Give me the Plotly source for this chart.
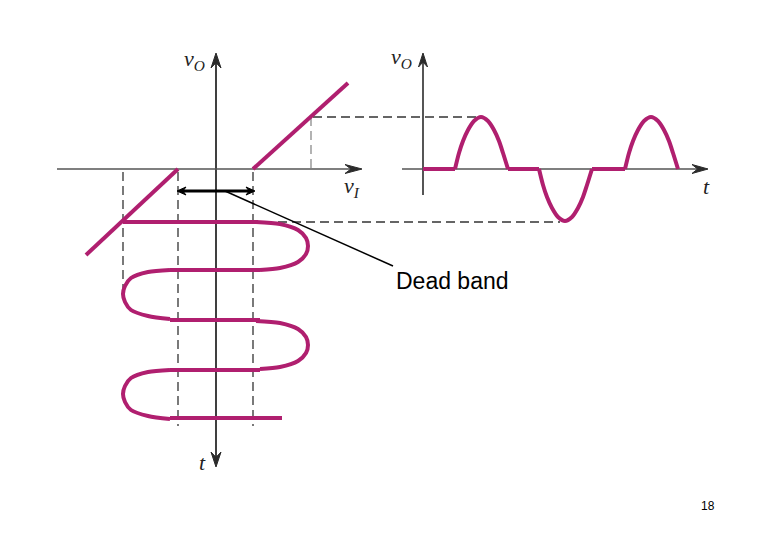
import plotly.graph_objects as go

MAG = "#b01f6f"
AX = "#2b2b2b"
DASH = "#333333"

# ---- left graph axes (pixel-like coordinates) ----
LEFT_VAXIS_X = [216, 216]
LEFT_VAXIS_Y = [56, 464]
LEFT_HAXIS_X = [57, 358]
LEFT_HAXIS_Y = [169, 169]

# transfer characteristic (dead band)
TRANSFER_RIGHT_X = [253, 348]
TRANSFER_RIGHT_Y = [169, 83]
TRANSFER_LEFT_X = [178, 86]
TRANSFER_LEFT_Y = [169, 255]

# dashed guides
DASH_SEGMENTS = [
    ([311, 311], [117, 169], "#8a8a8a"),
    ([313, 478], [117, 117], DASH),
    ([278, 560], [222, 222], DASH),
    ([123, 123], [172, 290], DASH),
    ([178, 178], [172, 426], DASH),
    ([253, 253], [172, 426], DASH),
]

# input signal (v_I vs t) drawn downward
INPUT_SEGMENTS = [
    ([123, 258], [222, 222]),
    ([260, 170], [270, 270]),
    ([170, 260], [320, 320]),
    ([260, 170], [370, 370]),
    ([170, 282], [418, 418]),
]
RIGHT_CAP_X = [256, 280, 298, 306, 308, 306, 298, 280, 260]
RIGHT_CAP_DY = [0, 2, 8, 16, 24, 32, 40, 46, 48]
RIGHT_CAP_TOPS = [222, 321]
LEFT_CAP_X = [170, 148, 131, 125, 123, 125, 131, 148, 170]
LEFT_CAP_DY = [0, 2, 8, 16, 24, 32, 40, 46, 49]
LEFT_CAP_TOPS = [270, 370]

# ---- right graph ----
RIGHT_VAXIS_X = [423, 423]
RIGHT_VAXIS_Y = [58, 195]
RIGHT_HAXIS_X = [402, 704]
RIGHT_HAXIS_Y = [169, 169]

OUT_FLAT = [([423, 455], [169, 169]), ([508, 539], [169, 169]), ([592, 625], [169, 169])]
LOBE_DX = [0, 4, 8, 13, 19, 26, 33, 39, 44, 48, 53]
LOBE_DY = [0, -16, -28, -39, -48, -52, -48, -39, -28, -16, 0]
LOBE_STARTS = [455, 539, 625]
LOBE_SIGNS = [1, -1, 1]

# dead band marker
DB_X = [180, 251]
DB_Y = [191, 191]
LEADER_X = [225, 393]
LEADER_Y = [191, 266]

fig = go.Figure()


def line(xs, ys, color, width, dash=None, shape="linear"):
    fig.add_trace(go.Scatter(x=xs, y=ys, mode="lines",
                             line=dict(color=color, width=width, dash=dash, shape=shape, smoothing=0.8),
                             hoverinfo="skip", showlegend=False))


def arrowhead(tip, d, length=15, half=5, color=AX):
    tx, ty = tip
    dx, dy = d
    nx, ny = -dy, dx
    bx, by = tx - length * dx, ty - length * dy
    xs = [tx, bx + half * nx, tx - 0.65 * length * dx, bx - half * nx, tx]
    ys = [ty, by + half * ny, ty - 0.65 * length * dy, by - half * ny, ty]
    fig.add_trace(go.Scatter(x=xs, y=ys, mode="lines", fill="toself", fillcolor=color,
                             line=dict(color=color, width=1), hoverinfo="skip", showlegend=False))


# dashed guides
for xs, ys, c in DASH_SEGMENTS:
    line(xs, ys, c, 1.3, dash="9px,5px")

# axes
line(LEFT_VAXIS_X, LEFT_VAXIS_Y, AX, 1.8)
line(LEFT_HAXIS_X, LEFT_HAXIS_Y, "#555555", 1.6)
line(RIGHT_VAXIS_X, RIGHT_VAXIS_Y, AX, 1.6)
line(RIGHT_HAXIS_X, RIGHT_HAXIS_Y, "#555555", 1.6)
arrowhead((216, 53), (0, -1))
arrowhead((216, 467), (0, 1))
arrowhead((362, 169), (1, 0), length=17, half=4.5)
arrowhead((423, 53), (0, -1), length=14, half=4.5)
arrowhead((708, 169), (1, 0), length=16, half=4.5)

# transfer characteristic
line(TRANSFER_RIGHT_X, TRANSFER_RIGHT_Y, MAG, 4)
line(TRANSFER_LEFT_X, TRANSFER_LEFT_Y, MAG, 4)

# input signal
for xs, ys in INPUT_SEGMENTS:
    line(xs, ys, MAG, 4)
for top in RIGHT_CAP_TOPS:
    line(RIGHT_CAP_X, [top + d for d in RIGHT_CAP_DY], MAG, 4, shape="spline")
for top in LEFT_CAP_TOPS:
    line(LEFT_CAP_X, [top + d for d in LEFT_CAP_DY], MAG, 4, shape="spline")

# output signal
for xs, ys in OUT_FLAT:
    line(xs, ys, MAG, 4)
for x0, s in zip(LOBE_STARTS, LOBE_SIGNS):
    line([x0 + d for d in LOBE_DX], [169 + s * d for d in LOBE_DY], MAG, 4, shape="spline")

# dead band arrow + leader
line(DB_X, DB_Y, "#000000", 3)
arrowhead((177, 191), (-1, 0), length=9, half=4, color="#000000")
arrowhead((255, 191), (1, 0), length=9, half=4, color="#000000")
line(LEADER_X, LEADER_Y, "#000000", 1.5)

SERIF = "Liberation Serif"
VO = "<i>v</i><sub><i>O</i></sub>"
VI = "<i>v</i><sub><i>I</i></sub>"
labels = [
    (194, 60, VO),
    (401, 58, VO),
    (352, 187, VI),
    (202, 462, "<i>t</i>"),
    (706, 186, "<i>t</i>"),
]
for x, y, t in labels:
    fig.add_annotation(x=x, y=y, text=t, showarrow=False, xref="x", yref="y",
                       font=dict(family=SERIF, size=22, color="#222222"))

fig.add_annotation(x=394, y=281, text="Dead band", showarrow=False, xanchor="left",
                   font=dict(family="Liberation Sans", size=23, color="#000000"))
fig.add_annotation(x=708, y=506, text="18", showarrow=False,
                   font=dict(family="Liberation Sans", size=12, color="#000000"))

# the page body has an 8px margin: the figure is shifted by it, so trim size and range
fig.update_layout(
    width=772, height=532, margin=dict(l=0, r=0, t=0, b=0),
    paper_bgcolor="white", plot_bgcolor="white",
    xaxis=dict(range=[8, 780], visible=False, fixedrange=True),
    yaxis=dict(range=[540, 8], visible=False, fixedrange=True),
    showlegend=False,
)
fig.write_html("out.html")
